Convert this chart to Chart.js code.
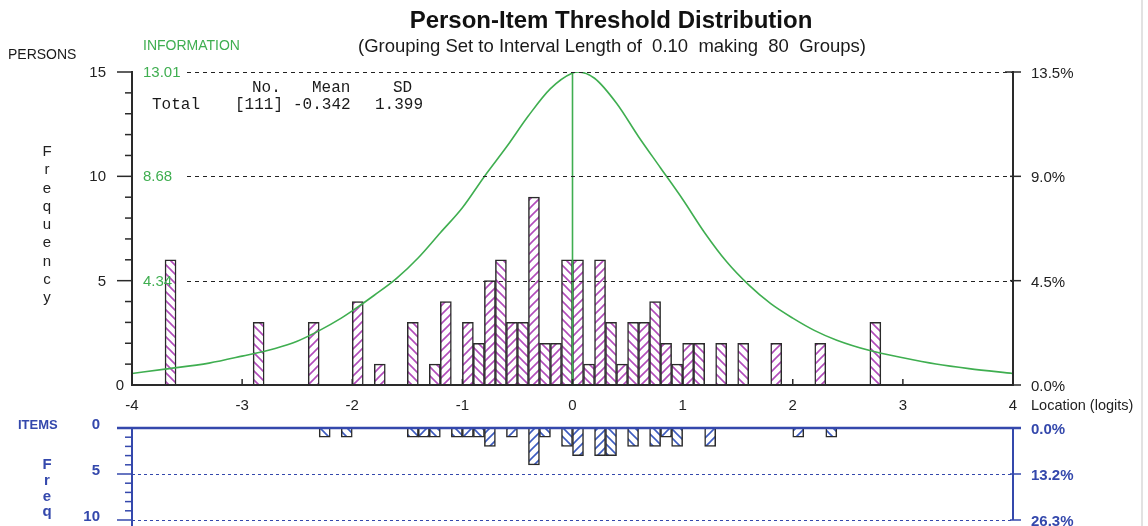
<!DOCTYPE html>
<html>
<head>
<meta charset="utf-8">
<title>Person-Item Threshold Distribution</title>
<script src="https://cdn.jsdelivr.net/npm/chart.js@4.4.1/dist/chart.umd.min.js"></script>
<style>
  html, body { margin: 0; padding: 0; background: #fff; }
  #wrap { position: relative; width: 1148px; height: 526px; overflow: hidden; background: #fff; }
  #wrap canvas { position: absolute; left: 0; top: 0; }
  #edge { position: absolute; left: 1141px; top: 0; width: 2px; height: 526px; background: #e2e2e2; }
</style>
</head>
<body>
<div id="wrap">
  <canvas id="personChart" width="1148" height="526"></canvas>
  <canvas id="itemChart" width="1148" height="526"></canvas>
  <div id="edge"></div>
</div>
<script>
// groups are 0.1 logit wide, each bin is the lower edge of a group
var personBins = [-3.7, -2.9, -2.4, -2.0, -1.8, -1.5, -1.3, -1.2, -1.0, -0.9, -0.8, -0.7, -0.6, -0.5, -0.4, -0.3, -0.2, -0.1,
  0.0, 0.1, 0.2, 0.3, 0.4, 0.5, 0.6, 0.7, 0.8, 0.9, 1.0, 1.1, 1.3, 1.5, 1.8, 2.2, 2.7];
var personCounts = [6, 3, 3, 4, 1, 3, 1, 4, 3, 2, 5, 6, 3, 3, 9, 2, 2, 6,
  6, 1, 6, 3, 1, 3, 3, 4, 2, 1, 2, 2, 2, 2, 2, 2, 3];

var itemBins = [-2.3, -2.1, -1.5, -1.4, -1.3, -1.1, -1.0, -0.9, -0.8, -0.6, -0.4, -0.3, -0.1,
  0.0, 0.2, 0.3, 0.5, 0.7, 0.8, 0.9, 1.2, 2.0, 2.3];
var itemCounts = [1, 1, 1, 1, 1, 1, 1, 1, 2, 1, 4, 1, 2,
  3, 3, 3, 2, 2, 1, 2, 2, 1, 1];

// test information curve
var infoLogits = [-4.0, -3.7, -3.3, -3.0, -2.7, -2.5, -2.3, -2.1, -2.0, -1.8, -1.6, -1.4, -1.2, -1.0, -0.8, -0.6, -0.4, -0.2,
  0.0, 0.05, 0.2, 0.4, 0.6, 0.8, 1.0, 1.2, 1.4, 1.6, 1.8, 2.0, 2.2, 2.4, 2.7, 3.0, 3.3, 3.6, 4.0];
var infoValues = [0.48, 0.66, 0.91, 1.20, 1.52, 1.82, 2.26, 2.78, 3.08, 3.73, 4.42, 5.29, 6.33, 7.37, 8.67, 9.89, 11.19, 12.32,
  12.97, 13.01, 12.75, 11.71, 10.32, 9.02, 7.72, 6.33, 5.12, 4.16, 3.38, 2.78, 2.26, 1.86, 1.43, 1.13, 0.87, 0.68, 0.48];

var itemMean = 0.0;
var nPersons = 111;
var nItems = 38;
var infoMax = 13.01;
var xTicks = [-4, -3, -2, -1, 0, 1, 2, 3, 4];
var personTicks = [0, 5, 10, 15];
var infoTickLabels = ['', '4.34', '8.68', '13.01'];
var itemTicks = [0, 5, 10];
var statHead = ['No.', 'Mean', 'SD'];
var statRow = ['Total', '[111]', '-0.342', '1.399'];

var SANS = '"Liberation Sans", Arial, sans-serif';
var MONO = '"Liberation Mono", "Courier New", monospace';
var GREEN = '#3fae50';
var BLUE = '#3448ac';
var INK = '#2a2a2a';

function hatch(color, dir) {
  var s = 9;
  var c = document.createElement('canvas');
  c.width = s; c.height = s;
  var g = c.getContext('2d');
  g.fillStyle = '#fff';
  g.fillRect(0, 0, s, s);
  g.strokeStyle = color;
  g.lineWidth = 1.6;
  g.beginPath();
  if (dir > 0) {
    g.moveTo(-1, s + 1); g.lineTo(s + 1, -1);
    g.moveTo(-2, 2); g.lineTo(2, -2);
    g.moveTo(s - 2, s + 2); g.lineTo(s + 2, s - 2);
  } else {
    g.moveTo(-1, -1); g.lineTo(s + 1, s + 1);
    g.moveTo(s - 2, -2); g.lineTo(s + 2, 2);
    g.moveTo(-2, s - 2); g.lineTo(2, s + 2);
  }
  g.stroke();
  return g.createPattern(c, 'repeat');
}
function centre(b) { return Math.round((b + 0.05) * 100) / 100; }
function dirOf(b) { return Math.round((b + 4) * 10) % 2 ? -1 : 1; }

function seg(ctx, x1, y1, x2, y2) {
  ctx.beginPath(); ctx.moveTo(x1, y1); ctx.lineTo(x2, y2); ctx.stroke();
}
function txt(ctx, s, x, y, font, color, align) {
  ctx.font = font;
  ctx.fillStyle = color;
  ctx.textAlign = align || 'left';
  ctx.textBaseline = 'middle';
  ctx.fillText(s, x, y);
}

var personFrame = {
  id: 'personFrame',
  afterDatasetsDraw: function (chart) {
    var ctx = chart.ctx, xs = chart.scales.x, ys = chart.scales.y;
    var L = xs.getPixelForValue(-4), R = xs.getPixelForValue(4);
    ctx.save();
    ctx.strokeStyle = '#222';
    ctx.lineWidth = 1;
    ctx.setLineDash([4, 4]);
    personTicks.forEach(function (v) {
      if (v === 0) return;
      var py = Math.round(ys.getPixelForValue(v)) + 0.5;
      seg(ctx, L + 55, py, R, py);
    });
    ctx.restore();
  },
  afterDraw: function (chart) {
    var ctx = chart.ctx, xs = chart.scales.x, ys = chart.scales.y;
    var L = xs.getPixelForValue(-4), R = xs.getPixelForValue(4);
    var y0 = ys.getPixelForValue(0), yTop = ys.getPixelForValue(15);
    ctx.save();
    ctx.strokeStyle = INK;
    ctx.lineWidth = 2;
    seg(ctx, L, yTop - 1, L, y0 + 1);
    seg(ctx, R, yTop - 1, R, y0 + 1);
    seg(ctx, L, y0, R, y0);
    ctx.lineWidth = 1.5;
    for (var v = 1; v <= 15; v++) {
      var py = ys.getPixelForValue(v);
      seg(ctx, L - (v % 5 ? 7 : 15), py, L, py);
    }
    personTicks.forEach(function (v) {
      var py = ys.getPixelForValue(v);
      seg(ctx, R - (v === 15 ? 8 : 3), py, R + 8, py);
    });
    xTicks.forEach(function (v) {
      var px = xs.getPixelForValue(v);
      seg(ctx, px, y0 - 6, px, y0);
    });

    var f15 = '15px ' + SANS;
    personTicks.forEach(function (v, i) {
      var py = ys.getPixelForValue(v);
      txt(ctx, String(v), v === 0 ? L - 8 : L - 26, py + 1, f15, '#222', 'right');
      if (infoTickLabels[i]) txt(ctx, infoTickLabels[i], L + 11, py + 1, f15, GREEN, 'left');
      txt(ctx, (v / nPersons * 100).toFixed(1) + '%', R + 18, py + 2, f15, '#222', 'left');
    });
    xTicks.forEach(function (v) {
      txt(ctx, String(v), xs.getPixelForValue(v), y0 + 21, f15, '#222', 'center');
    });
    txt(ctx, 'Location (logits)', R + 18, y0 + 21, '14.5px ' + SANS, '#222', 'left');

    txt(ctx, 'Person-Item Threshold Distribution', 611, 21, 'bold 24px ' + SANS, '#111', 'center');
    txt(ctx, '(Grouping Set to Interval Length of  0.10  making  80  Groups)', 612, 47, '18.5px ' + SANS, '#1a1a1a', 'center');
    txt(ctx, 'PERSONS', 8, 55, '14px ' + SANS, '#1a1a1a', 'left');
    txt(ctx, 'INFORMATION', 143, 46, '14px ' + SANS, GREEN, 'left');
    'Frequency'.split('').forEach(function (ch, i) {
      txt(ctx, ch, 47, 152 + i * 18.25, f15, '#222', 'center');
    });

    var fm = '16px ' + MONO;
    [252, 312, 393].forEach(function (x, i) { txt(ctx, statHead[i], x, 88, fm, '#1a1a1a', 'left'); });
    [152, 235, 293, 375].forEach(function (x, i) { txt(ctx, statRow[i], x, 105, fm, '#1a1a1a', 'left'); });
    ctx.restore();
  }
};

var itemFrame = {
  id: 'itemFrame',
  afterDraw: function (chart) {
    var ctx = chart.ctx, xs = chart.scales.x, ys = chart.scales.y;
    var L = xs.getPixelForValue(-4), R = xs.getPixelForValue(4);
    var yZero = ys.getPixelForValue(0), yEnd = ys.getPixelForValue(10);
    ctx.save();
    ctx.strokeStyle = BLUE;
    ctx.lineWidth = 1;
    ctx.setLineDash([3, 3]);
    [5, 10].forEach(function (v) {
      var py = Math.round(ys.getPixelForValue(v)) + 0.5;
      seg(ctx, L, py, R, py);
    });
    ctx.setLineDash([]);
    ctx.lineWidth = 2.5;
    seg(ctx, L - 15, yZero, R + 8, yZero);
    ctx.lineWidth = 2;
    seg(ctx, L, yZero, L, yEnd + 6);
    seg(ctx, R, yZero, R, yEnd);
    ctx.lineWidth = 1.5;
    for (var v = 1; v <= 10; v++) {
      var py = ys.getPixelForValue(v);
      seg(ctx, L - (v % 5 ? 7 : 15), py, L, py);
    }
    itemTicks.forEach(function (v) {
      var py = ys.getPixelForValue(v);
      seg(ctx, R - 3, py, R + 8, py);
    });

    var f15 = '15px ' + SANS;
    itemTicks.forEach(function (v) {
      var py = ys.getPixelForValue(v);
      txt(ctx, String(v), L - 32, py - 3, 'bold ' + f15, BLUE, 'right');
      txt(ctx, (v / nItems * 100).toFixed(1) + '%', R + 18, py + 2, 'bold ' + f15, BLUE, 'left');
    });
    txt(ctx, 'ITEMS', 18, 425, 'bold 13px ' + SANS, BLUE, 'left');
    'Freq'.split('').forEach(function (ch, i) {
      txt(ctx, ch, 47, 465 + i * 15.7, 'bold ' + f15, BLUE, 'center');
    });
    ctx.restore();
  }
};

var personChart = new Chart(document.getElementById('personChart'), {
  type: 'bar',
  data: {
    datasets: [
      {
        type: 'line',
        label: 'Information',
        data: infoLogits.map(function (x, i) { return { x: x, y: infoValues[i] }; }),
        yAxisID: 'yInfo',
        borderColor: GREEN,
        borderWidth: 1.6,
        pointRadius: 0,
        cubicInterpolationMode: 'monotone',
        order: 1
      },
      {
        type: 'line',
        label: 'Item mean',
        data: [{ x: itemMean, y: 0 }, { x: itemMean, y: infoMax }],
        yAxisID: 'yInfo',
        borderColor: GREEN,
        borderWidth: 1.6,
        pointRadius: 0,
        order: 1
      },
      {
        type: 'bar',
        label: 'Persons',
        data: personBins.map(function (b, i) { return { x: centre(b), y: personCounts[i] }; }),
        backgroundColor: personBins.map(function (b) { return hatch('#b24cbb', dirOf(b)); }),
        borderColor: INK,
        borderWidth: 1.5,
        categoryPercentage: 1,
        barPercentage: 1,
        order: 2
      }
    ]
  },
  options: {
    responsive: false,
    animation: false,
    devicePixelRatio: 1,
    events: [],
    layout: { padding: { left: 132, right: 135, top: 72, bottom: 141 } },
    plugins: { legend: { display: false }, tooltip: { enabled: false } },
    scales: {
      x: { type: 'linear', min: -4, max: 4, offset: false, display: false },
      y: { min: 0, max: 15, display: false },
      yInfo: { min: 0, max: infoMax, display: false }
    }
  },
  plugins: [personFrame]
});

var itemChart = new Chart(document.getElementById('itemChart'), {
  type: 'bar',
  data: {
    datasets: [{
      label: 'Items',
      data: itemBins.map(function (b, i) { return { x: centre(b), y: itemCounts[i] }; }),
      backgroundColor: itemBins.map(function (b) { return hatch('#3d5cc0', dirOf(b)); }),
      borderColor: INK,
      borderWidth: 1.5,
      categoryPercentage: 1,
      barPercentage: 1
    }]
  },
  options: {
    responsive: false,
    animation: false,
    devicePixelRatio: 1,
    events: [],
    layout: { padding: { left: 132, right: 135, top: 428, bottom: 6 } },
    plugins: { legend: { display: false }, tooltip: { enabled: false } },
    scales: {
      x: { type: 'linear', min: -4, max: 4, offset: false, display: false },
      y: { min: 0, max: 10, reverse: true, display: false }
    }
  },
  plugins: [itemFrame]
});
</script>
</body>
</html>
